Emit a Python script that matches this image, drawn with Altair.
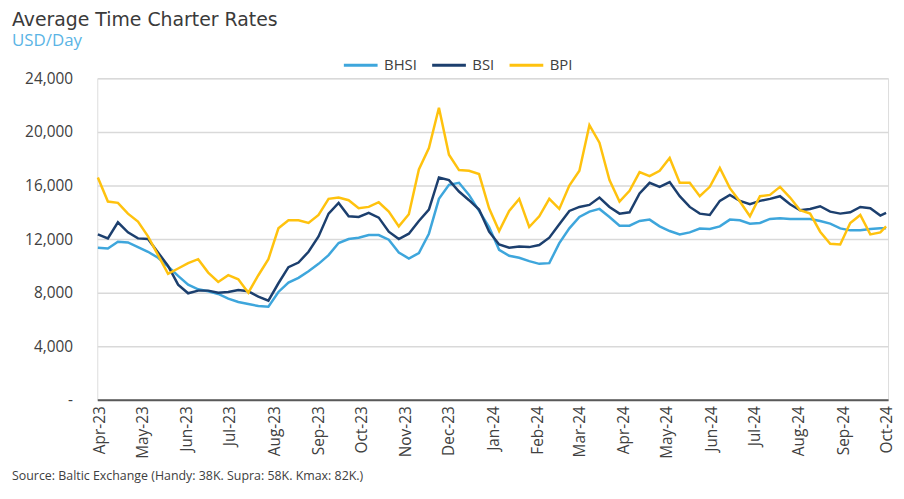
import altair as alt
import pandas as pd

# Weekly observations (Fridays) Mar-23 .. Oct-24
dates = list(pd.date_range("2023-03-31", periods=79, freq="7D").strftime("%Y-%m-%d")) + ["2024-10-01"]

bhsi = [11350, 11300, 11800, 11750, 11400, 11050, 10600, 9950, 9250, 8600,
        8250, 8100, 7900, 7550, 7300, 7150, 7000, 6950, 8050, 8750,
        9100, 9600, 10150, 10800, 11700, 12000, 12100, 12300, 12300, 11950,
        11000, 10550, 10950, 12400, 15000, 16050, 16200, 15300, 14100, 12900,
        11200, 10750, 10600, 10350, 10150, 10200, 11700, 12800, 13650, 14050,
        14250, 13650, 13000, 13000, 13350, 13450, 12950, 12600, 12350, 12500,
        12780, 12750, 12950, 13450, 13400, 13150, 13200, 13500, 13550, 13500,
        13500, 13500, 13350, 13150, 12800, 12650, 12650, 12750, 12800, 12800]

bsi = [12350, 12050, 13250, 12500, 12050, 12000, 11000, 10000, 8600, 7950,
       8150, 8150, 8000, 8050, 8200, 8100, 7700, 7400, 8700, 9900,
       10250, 11050, 12200, 13900, 14700, 13700, 13650, 13950, 13600, 12550,
       12000, 12400, 13350, 14200, 16600, 16400, 15550, 14900, 14200, 12550,
       11600, 11350, 11450, 11400, 11550, 12100, 13100, 14100, 14400, 14550,
       15100, 14400, 13900, 14000, 15400, 16200, 15900, 16250, 15200, 14400,
       13900, 13800, 14850, 15300, 14850, 14600, 14850, 15000, 15200, 14600,
       14150, 14250, 14450, 14050, 13900, 14000, 14400, 14300, 13750, 13950]

bpi = [16600, 14800, 14700, 13900, 13300, 12200, 10800, 9400, 9800, 10200,
       10500, 9500, 8800, 9300, 9000, 8000, 9300, 10500, 12800, 13400,
       13400, 13200, 13800, 15000, 15100, 14900, 14300, 14400, 14750, 14050,
       12950, 13850, 17200, 18800, 21800, 18300, 17150, 17100, 16850, 14300,
       12600, 14100, 15000, 12900, 13700, 15000, 14250, 16000, 17100, 20500,
       19200, 16400, 14800, 15600, 17000, 16700, 17100, 18050, 16200, 16200,
       15200, 15900, 17300, 15800, 14800, 13700, 15200, 15300, 15900, 15100,
       14150, 13900, 12550, 11650, 11600, 13200, 13800, 12350, 12500, 12950]

series_names = ["BHSI", "BSI", "BPI"]
series_colors = ["#3EA6DC", "#1C3F6E", "#FFC20E"]

tick_dates = list(pd.date_range("2023-04-01", "2024-10-01", freq="MS"))
y_ticks = [0, 4000, 8000, 12000, 16000, 20000, 24000]

title_text = "Average Time Charter Rates"
subtitle_text = "USD/Day"
source_text = "Source: Baltic Exchange (Handy: 38K. Supra: 58K. Kmax: 82K.)"

rows = []
for name, vals in zip(series_names, [bhsi, bsi, bpi]):
    for d, v in zip(dates, vals):
        rows.append({"date": d, "value": v, "series": name})
df = pd.DataFrame(rows)


def ms(ts):
    return int(pd.Timestamp(ts, tz="UTC").value // 10**6)


tick_ms = [ms(t) for t in tick_dates]
domain_ms = [ms("2023-03-30 14:45"), ms("2024-10-02 09:15")]

font = "Open Sans"

lines = alt.Chart(df).mark_line(strokeWidth=2.5).encode(
    x=alt.X("date:T",
            scale=alt.Scale(type="utc", domain=domain_ms),
            axis=alt.Axis(values=tick_ms, labelExpr="utcFormat(datum.value, '%b-%y')",
                          labelAngle=270, labelFontSize=15.5, labelColor="#404040",
                          labelPadding=6, ticks=False, grid=False, domain=True,
                          domainColor="#595959", domainWidth=2, title=None,
                          labelFont=font)),
    y=alt.Y("value:Q",
            scale=alt.Scale(domain=[0, 24000], nice=False),
            axis=alt.Axis(values=y_ticks,
                          labelExpr="datum.value == 0 ? '-' : format(datum.value, ',')",
                          labelFontSize=15.5, labelColor="#404040", labelPadding=25,
                          ticks=False, domain=False, grid=True, gridColor="#d9d9d9",
                          gridWidth=1.5, title=None, labelFont=font)),
    color=alt.Color("series:N",
                    scale=alt.Scale(domain=series_names, range=series_colors),
                    sort=series_names,
                    legend=alt.Legend(orient="none", legendX=247, legendY=-32,
                                      direction="horizontal", title=None,
                                      symbolType="stroke", symbolSize=1156,
                                      symbolStrokeWidth=3, labelFontSize=15,
                                      labelColor="#404040", labelOffset=5,
                                      columnPadding=8, labelFont=font)),
)

title = alt.Chart(pd.DataFrame({"t": [title_text]})).mark_text(
    align="left", baseline="alphabetic", fontSize=19, font="DejaVu Sans", color="#3a3a3a"
).encode(text="t:N", x=alt.value(-86), y=alt.value(-53))

subtitle = alt.Chart(pd.DataFrame({"t": [subtitle_text]})).mark_text(
    align="left", baseline="alphabetic", fontSize=17, font=font, color="#5AB4E5"
).encode(text="t:N", x=alt.value(-86), y=alt.value(-33))

source = alt.Chart(pd.DataFrame({"t": [source_text]})).mark_text(
    align="left", baseline="alphabetic", fontSize=12.5, font=font, color="#404040"
).encode(text="t:N", x=alt.value(-86), y=alt.value(405))

chart = alt.layer(lines, title, subtitle, source).properties(
    width=797, height=324,
    autosize=alt.AutoSizeParams(type="none"),
    padding={"left": 90, "top": 69, "right": 8, "bottom": 84},
).configure_view(stroke=None).configure(font=font)

chart.save("out.html", embed_options={"renderer": "svg", "actions": False})
